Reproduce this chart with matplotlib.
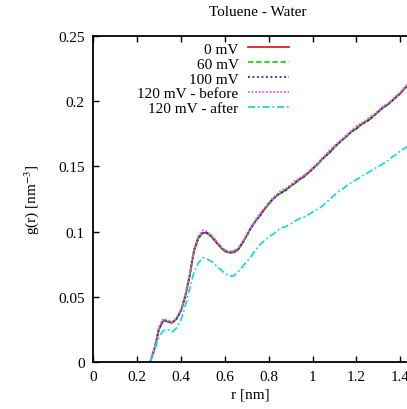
import numpy as np
import matplotlib
matplotlib.use("Agg")
import matplotlib.pyplot as plt
from matplotlib.ticker import FuncFormatter

# ── data ──────────────────────────────────────────────────────────────────────

r = [0.26, 0.28, 0.30, 0.32, 0.34, 0.36, 0.38, 0.40, 0.42, 0.44, 0.46, 0.48,
     0.50, 0.52, 0.54, 0.56, 0.58, 0.60, 0.62, 0.64, 0.66, 0.68, 0.70, 0.72,
     0.74, 0.76, 0.78, 0.80, 0.82, 0.84, 0.86, 0.88, 0.90, 0.92, 0.94, 0.96,
     0.98, 1.00, 1.02, 1.04, 1.06, 1.08, 1.10, 1.12, 1.14, 1.16, 1.18, 1.20,
     1.22, 1.24, 1.26, 1.28, 1.30, 1.32, 1.34, 1.36, 1.38, 1.40, 1.42, 1.44]

g_0mV = [0.000, 0.010, 0.025, 0.032, 0.031, 0.030, 0.033, 0.039, 0.050, 0.066,
         0.085, 0.095, 0.099, 0.099, 0.096, 0.092, 0.088, 0.085, 0.084, 0.084,
         0.086, 0.091, 0.097, 0.103, 0.108, 0.112, 0.117, 0.121, 0.125, 0.128,
         0.130, 0.132, 0.135, 0.137, 0.140, 0.142, 0.145, 0.148, 0.151, 0.155,
         0.158, 0.161, 0.165, 0.168, 0.171, 0.174, 0.177, 0.179, 0.182, 0.184,
         0.186, 0.189, 0.192, 0.195, 0.197, 0.200, 0.203, 0.206, 0.210, 0.213]

g_60mV = [0.000, 0.010, 0.025, 0.032, 0.031, 0.030, 0.033, 0.040, 0.050, 0.066,
          0.085, 0.096, 0.099, 0.098, 0.097, 0.093, 0.088, 0.086, 0.084, 0.085,
          0.087, 0.091, 0.097, 0.103, 0.108, 0.113, 0.117, 0.121, 0.125, 0.128,
          0.130, 0.133, 0.135, 0.137, 0.140, 0.143, 0.145, 0.148, 0.151, 0.155,
          0.158, 0.162, 0.165, 0.168, 0.171, 0.174, 0.177, 0.180, 0.182, 0.184,
          0.187, 0.189, 0.192, 0.195, 0.198, 0.200, 0.203, 0.207, 0.210, 0.213]

g_100mV = [0.000, 0.010, 0.025, 0.032, 0.031, 0.030, 0.033, 0.039, 0.051, 0.066,
           0.086, 0.095, 0.099, 0.099, 0.096, 0.092, 0.089, 0.085, 0.084, 0.084,
           0.086, 0.091, 0.097, 0.103, 0.108, 0.112, 0.117, 0.122, 0.125, 0.128,
           0.130, 0.132, 0.135, 0.138, 0.140, 0.142, 0.145, 0.148, 0.152, 0.155,
           0.158, 0.161, 0.165, 0.168, 0.171, 0.174, 0.177, 0.179, 0.182, 0.184,
           0.186, 0.189, 0.192, 0.195, 0.197, 0.200, 0.203, 0.206, 0.210, 0.213]

g_120mV_before = [0.000, 0.011, 0.027, 0.033, 0.032, 0.031, 0.034, 0.040, 0.051,
                  0.067, 0.087, 0.097, 0.101, 0.100, 0.097, 0.093, 0.089, 0.086,
                  0.085, 0.085, 0.087, 0.092, 0.098, 0.104, 0.109, 0.114, 0.118,
                  0.122, 0.126, 0.129, 0.132, 0.133, 0.136, 0.139, 0.141, 0.143,
                  0.146, 0.149, 0.152, 0.156, 0.159, 0.163, 0.166, 0.169, 0.172,
                  0.175, 0.178, 0.181, 0.183, 0.185, 0.188, 0.190, 0.193, 0.196,
                  0.198, 0.201, 0.204, 0.207, 0.211, 0.214]

g_120mV_after = [0.000, 0.009, 0.019, 0.024, 0.025, 0.023, 0.026, 0.032, 0.043,
                 0.056, 0.069, 0.076, 0.080, 0.079, 0.077, 0.074, 0.071, 0.068,
                 0.066, 0.066, 0.069, 0.073, 0.077, 0.081, 0.086, 0.090, 0.093,
                 0.096, 0.098, 0.101, 0.103, 0.104, 0.106, 0.108, 0.110, 0.111,
                 0.113, 0.115, 0.117, 0.119, 0.122, 0.125, 0.128, 0.131, 0.133,
                 0.136, 0.138, 0.140, 0.142, 0.144, 0.146, 0.148, 0.150, 0.152,
                 0.154, 0.157, 0.159, 0.162, 0.164, 0.166]

series = [
    ("0 mV", g_0mV, "#e02020", "-"),
    ("60 mV", g_60mV, "#20d020", (0, (3, 1.5))),
    ("100 mV", g_100mV, "#2020c0", (0, (1, 1.5))),
    ("120 mV - before", g_120mV_before, "#e060e0", (0, (1, 1))),
    ("120 mV - after", g_120mV_after, "#20d8d8", (0, (4, 1.5, 1, 1.5))),
]

x_ticks = [0, 0.2, 0.4, 0.6, 0.8, 1.0, 1.2, 1.4]
y_ticks = [0, 0.05, 0.1, 0.15, 0.2, 0.25]

# ── figure ────────────────────────────────────────────────────────────────────

plt.rcParams["font.family"] = ["Liberation Serif", "DejaVu Serif"]
plt.rcParams["mathtext.fontset"] = "stix"

fig = plt.figure(figsize=(4.07, 4.10), dpi=100)
ax = fig.add_axes([93 / 407, 1 - 363 / 410, 1 - 93 / 407, (363 - 37) / 410])

for label, g, color, ls in series:
    ax.plot(r, g, color=color, ls=ls, lw=1.3, label=label)

ax.set_xlim(0, 1.43)
ax.set_ylim(0, 0.25)
ax.set_xticks(x_ticks)
ax.set_yticks(y_ticks)
fmt = FuncFormatter(lambda v, p: f"{v:g}")
ax.xaxis.set_major_formatter(fmt)
ax.yaxis.set_major_formatter(fmt)
ax.tick_params(direction="in", length=4.5, width=1, top=True, right=False,
               labelsize=11, pad=6)
for s in ("left", "bottom", "top"):
    ax.spines[s].set_linewidth(1.3)
ax.spines["right"].set_visible(False)

ax.set_xlabel("r [nm]", fontsize=11, labelpad=3)
ax.set_ylabel("g(r) [nm$^{-3}$]", fontsize=11, labelpad=12)
fig.text(258 / 407, 1 - 12 / 410, "Toluene - Water", ha="center", va="center",
         fontsize=11)

# markerfirst=False right-aligns the rows, so the labels end next to the samples
ax.legend(loc="upper right", bbox_to_anchor=(289 / 407, 1 - 43 / 410),
          bbox_transform=fig.transFigure, frameon=False, markerfirst=False,
          fontsize=11, handlelength=2.7, handletextpad=0.6,
          labelspacing=0.08, borderpad=0, borderaxespad=0)

fig.savefig("out.png", dpi=100)
